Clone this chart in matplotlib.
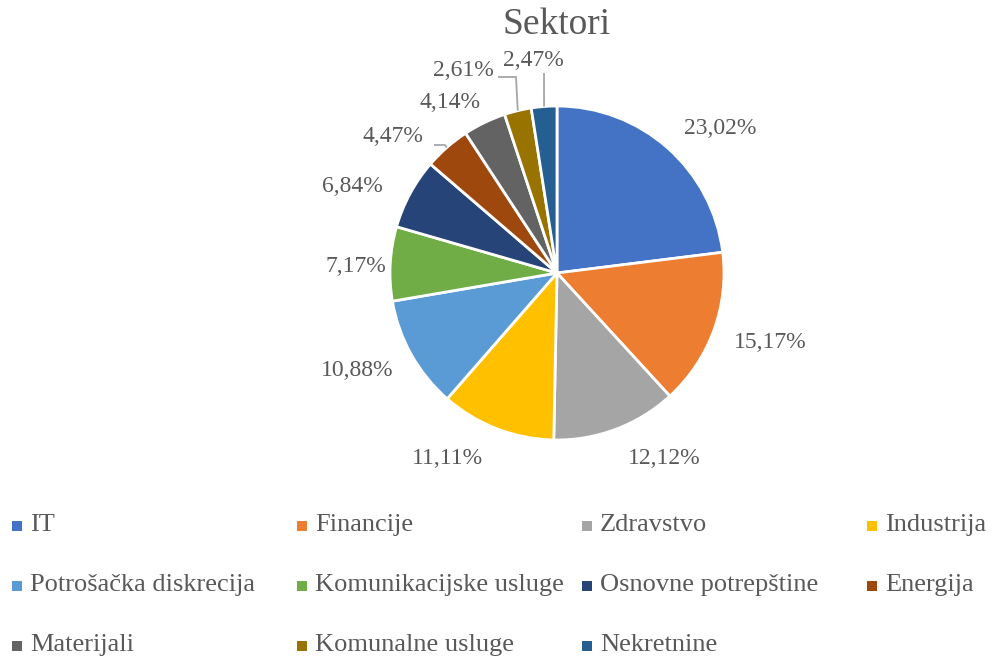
import numpy as np
import matplotlib.pyplot as plt

sectors = ["IT", "Financije", "Zdravstvo", "Industrija",
           "Potrošačka diskrecija", "Komunikacijske usluge", "Osnovne potrepštine", "Energija",
           "Materijali", "Komunalne usluge", "Nekretnine"]
shares = [23.02, 15.17, 12.12, 11.11, 10.88, 7.17, 6.84, 4.47, 4.14, 2.61, 2.47]
colors = ["#4472C4", "#ED7D31", "#A5A5A5", "#FFC000", "#5B9BD5", "#70AD47",
          "#264478", "#9E480E", "#636363", "#997300", "#255E91"]

# label centres in pixels (x from left, y from top), as placed in the original
label_px = [(720, 128), (770, 343), (664, 458), (447, 458), (357, 371), (356, 266),
            (352, 186), (393, 137), (450, 103), (463, 71), (533, 60)]
# leader lines: index -> start points (pixels) before reaching the wedge edge
leaders = {7: [(434, 145), (445, 145)],
           9: [(498, 77), (516, 77)],
           10: [(544, 73)]}

W, H = 992, 660
cx, cy, R = 557, H - 273, 167
txt = "#595959"
plt.rcParams['font.family'] = ['Liberation Serif', 'DejaVu Serif']

fig = plt.figure(figsize=(W / 100, H / 100), dpi=100)
ax = fig.add_axes([0, 0, 1, 1])
wedges, _ = ax.pie(shares, colors=colors, startangle=90, counterclock=False,
                   center=(cx, cy), radius=R,
                   wedgeprops=dict(edgecolor="white", linewidth=2))
ax.set_xlim(0, W)
ax.set_ylim(0, H)
ax.set_aspect("equal")
ax.axis("off")

for i, (w, v) in enumerate(zip(wedges, shares)):
    lx, ly = label_px[i]
    ax.text(lx, H - ly, f"{v:.2f}%".replace(".", ","), ha="center", va="center",
            fontsize=17, color=txt)
    if i in leaders:
        mid = np.deg2rad((w.theta1 + w.theta2) / 2)
        pts = [(x, H - y) for x, y in leaders[i]]
        pts.append((cx + R * np.cos(mid), cy + R * np.sin(mid)))
        xs, ys = zip(*pts)
        ax.plot(xs, ys, color="#A6A6A6", lw=1.3, solid_capstyle="butt")

ax.text(557, H - 25, "Sektori", ha="center", va="center", fontsize=27, color=txt)

# legend, 4 columns
for i, (name, c) in enumerate(zip(sectors, colors)):
    row, col = divmod(i, 4)
    mx = 17 + col * 285
    my = H - (526 + row * 60)
    ax.scatter([mx], [my], marker="s", s=45, color=c, linewidths=0)
    ax.text(mx + 13, my + 1, name, ha="left", va="center", fontsize=19, color=txt)

fig.savefig("out.png", dpi=100)
